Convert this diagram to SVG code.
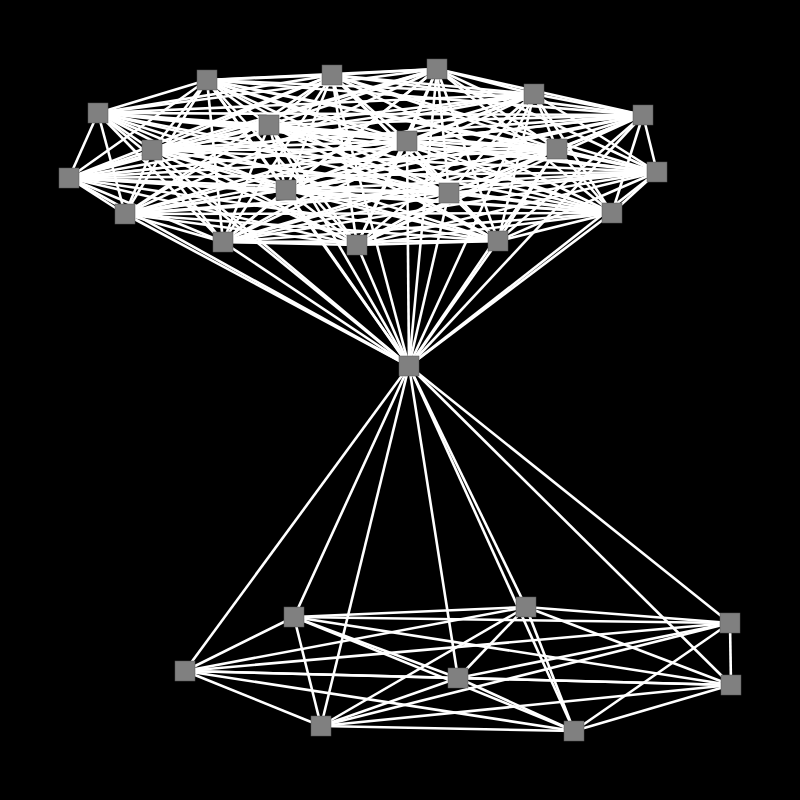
<svg xmlns="http://www.w3.org/2000/svg" width="800" height="800" viewBox="0 0 800 800">
<style>
.e path{stroke:#fff;stroke-width:2.6;fill:none}
.n rect{fill:#808080;stroke:#555;stroke-width:0.5}
</style>
<rect x="0" y="0" width="800" height="800" fill="#000"/>
<g id="connectors" class="e">
<path d="M207 80L332 75"/><path d="M207 80L437 69"/><path d="M207 80L534 94"/><path d="M207 80L643 115"/><path d="M207 80L657 172"/><path d="M207 80L612 213"/><path d="M207 80L498 241"/><path d="M207 80L357 245"/><path d="M207 80L223 242"/><path d="M207 80L125 214"/><path d="M207 80L69 178"/><path d="M207 80L98 113"/><path d="M207 80L152 150"/><path d="M207 80L269 125"/><path d="M207 80L407 141"/><path d="M207 80L557 149"/><path d="M207 80L286 190"/><path d="M207 80L449 193"/><path d="M207 80L409 366"/>
<path d="M332 75L437 69"/><path d="M332 75L534 94"/><path d="M332 75L643 115"/><path d="M332 75L657 172"/><path d="M332 75L612 213"/><path d="M332 75L498 241"/><path d="M332 75L357 245"/><path d="M332 75L223 242"/><path d="M332 75L125 214"/><path d="M332 75L69 178"/><path d="M332 75L98 113"/><path d="M332 75L152 150"/><path d="M332 75L269 125"/><path d="M332 75L407 141"/><path d="M332 75L557 149"/><path d="M332 75L286 190"/><path d="M332 75L449 193"/><path d="M332 75L409 366"/>
<path d="M437 69L534 94"/><path d="M437 69L643 115"/><path d="M437 69L657 172"/><path d="M437 69L612 213"/><path d="M437 69L498 241"/><path d="M437 69L357 245"/><path d="M437 69L223 242"/><path d="M437 69L125 214"/><path d="M437 69L69 178"/><path d="M437 69L98 113"/><path d="M437 69L152 150"/><path d="M437 69L269 125"/><path d="M437 69L407 141"/><path d="M437 69L557 149"/><path d="M437 69L286 190"/><path d="M437 69L449 193"/><path d="M437 69L409 366"/>
<path d="M534 94L643 115"/><path d="M534 94L657 172"/><path d="M534 94L612 213"/><path d="M534 94L498 241"/><path d="M534 94L357 245"/><path d="M534 94L223 242"/><path d="M534 94L125 214"/><path d="M534 94L69 178"/><path d="M534 94L98 113"/><path d="M534 94L152 150"/><path d="M534 94L269 125"/><path d="M534 94L407 141"/><path d="M534 94L557 149"/><path d="M534 94L286 190"/><path d="M534 94L449 193"/><path d="M534 94L409 366"/>
<path d="M643 115L657 172"/><path d="M643 115L612 213"/><path d="M643 115L498 241"/><path d="M643 115L357 245"/><path d="M643 115L223 242"/><path d="M643 115L125 214"/><path d="M643 115L69 178"/><path d="M643 115L98 113"/><path d="M643 115L152 150"/><path d="M643 115L269 125"/><path d="M643 115L407 141"/><path d="M643 115L557 149"/><path d="M643 115L286 190"/><path d="M643 115L449 193"/><path d="M643 115L409 366"/>
<path d="M657 172L612 213"/><path d="M657 172L498 241"/><path d="M657 172L357 245"/><path d="M657 172L223 242"/><path d="M657 172L125 214"/><path d="M657 172L69 178"/><path d="M657 172L98 113"/><path d="M657 172L152 150"/><path d="M657 172L269 125"/><path d="M657 172L407 141"/><path d="M657 172L557 149"/><path d="M657 172L286 190"/><path d="M657 172L449 193"/><path d="M657 172L409 366"/>
<path d="M612 213L498 241"/><path d="M612 213L357 245"/><path d="M612 213L223 242"/><path d="M612 213L125 214"/><path d="M612 213L69 178"/><path d="M612 213L98 113"/><path d="M612 213L152 150"/><path d="M612 213L269 125"/><path d="M612 213L407 141"/><path d="M612 213L557 149"/><path d="M612 213L286 190"/><path d="M612 213L449 193"/><path d="M612 213L409 366"/>
<path d="M498 241L357 245"/><path d="M498 241L223 242"/><path d="M498 241L125 214"/><path d="M498 241L69 178"/><path d="M498 241L98 113"/><path d="M498 241L152 150"/><path d="M498 241L269 125"/><path d="M498 241L407 141"/><path d="M498 241L557 149"/><path d="M498 241L286 190"/><path d="M498 241L449 193"/><path d="M498 241L409 366"/>
<path d="M357 245L223 242"/><path d="M357 245L125 214"/><path d="M357 245L69 178"/><path d="M357 245L98 113"/><path d="M357 245L152 150"/><path d="M357 245L269 125"/><path d="M357 245L407 141"/><path d="M357 245L557 149"/><path d="M357 245L286 190"/><path d="M357 245L449 193"/><path d="M357 245L409 366"/>
<path d="M223 242L125 214"/><path d="M223 242L69 178"/><path d="M223 242L98 113"/><path d="M223 242L152 150"/><path d="M223 242L269 125"/><path d="M223 242L407 141"/><path d="M223 242L557 149"/><path d="M223 242L286 190"/><path d="M223 242L449 193"/><path d="M223 242L409 366"/>
<path d="M125 214L69 178"/><path d="M125 214L98 113"/><path d="M125 214L152 150"/><path d="M125 214L269 125"/><path d="M125 214L407 141"/><path d="M125 214L557 149"/><path d="M125 214L286 190"/><path d="M125 214L449 193"/><path d="M125 214L409 366"/>
<path d="M69 178L98 113"/><path d="M69 178L152 150"/><path d="M69 178L269 125"/><path d="M69 178L407 141"/><path d="M69 178L557 149"/><path d="M69 178L286 190"/><path d="M69 178L449 193"/><path d="M69 178L409 366"/>
<path d="M98 113L152 150"/><path d="M98 113L269 125"/><path d="M98 113L407 141"/><path d="M98 113L557 149"/><path d="M98 113L286 190"/><path d="M98 113L449 193"/><path d="M98 113L409 366"/>
<path d="M152 150L269 125"/><path d="M152 150L407 141"/><path d="M152 150L557 149"/><path d="M152 150L286 190"/><path d="M152 150L449 193"/><path d="M152 150L409 366"/>
<path d="M269 125L407 141"/><path d="M269 125L557 149"/><path d="M269 125L286 190"/><path d="M269 125L449 193"/><path d="M269 125L409 366"/>
<path d="M407 141L557 149"/><path d="M407 141L286 190"/><path d="M407 141L449 193"/><path d="M407 141L409 366"/>
<path d="M557 149L286 190"/><path d="M557 149L449 193"/><path d="M557 149L409 366"/>
<path d="M286 190L449 193"/><path d="M286 190L409 366"/>
<path d="M449 193L409 366"/>
<path d="M409 366L294 617"/><path d="M409 366L526 607"/><path d="M409 366L730 623"/><path d="M409 366L731 685"/><path d="M409 366L574 731"/><path d="M409 366L321 726"/><path d="M409 366L185 671"/><path d="M409 366L458 678"/>
<path d="M294 617L526 607"/><path d="M294 617L730 623"/><path d="M294 617L731 685"/><path d="M294 617L574 731"/><path d="M294 617L321 726"/><path d="M294 617L185 671"/><path d="M294 617L458 678"/>
<path d="M526 607L730 623"/><path d="M526 607L731 685"/><path d="M526 607L574 731"/><path d="M526 607L321 726"/><path d="M526 607L185 671"/><path d="M526 607L458 678"/>
<path d="M730 623L731 685"/><path d="M730 623L574 731"/><path d="M730 623L321 726"/><path d="M730 623L185 671"/><path d="M730 623L458 678"/>
<path d="M731 685L574 731"/><path d="M731 685L321 726"/><path d="M731 685L185 671"/><path d="M731 685L458 678"/>
<path d="M574 731L321 726"/><path d="M574 731L185 671"/><path d="M574 731L458 678"/>
<path d="M321 726L185 671"/><path d="M321 726L458 678"/>
<path d="M185 671L458 678"/>
</g>
<g class="n">
<g id="t0"><rect x="197" y="70" width="20" height="20"/></g>
<g id="t1"><rect x="322" y="65" width="20" height="20"/></g>
<g id="t2"><rect x="427" y="59" width="20" height="20"/></g>
<g id="t3"><rect x="524" y="84" width="20" height="20"/></g>
<g id="t4"><rect x="633" y="105" width="20" height="20"/></g>
<g id="t5"><rect x="647" y="162" width="20" height="20"/></g>
<g id="t6"><rect x="602" y="203" width="20" height="20"/></g>
<g id="t7"><rect x="488" y="231" width="20" height="20"/></g>
<g id="t8"><rect x="347" y="235" width="20" height="20"/></g>
<g id="t9"><rect x="213" y="232" width="20" height="20"/></g>
<g id="t10"><rect x="115" y="204" width="20" height="20"/></g>
<g id="t11"><rect x="59" y="168" width="20" height="20"/></g>
<g id="t12"><rect x="88" y="103" width="20" height="20"/></g>
<g id="t13"><rect x="142" y="140" width="20" height="20"/></g>
<g id="t14"><rect x="259" y="115" width="20" height="20"/></g>
<g id="t15"><rect x="397" y="131" width="20" height="20"/></g>
<g id="t16"><rect x="547" y="139" width="20" height="20"/></g>
<g id="t17"><rect x="276" y="180" width="20" height="20"/></g>
<g id="t18"><rect x="439" y="183" width="20" height="20"/></g>
<g id="hub"><rect x="399" y="356" width="20" height="20"/></g>
<g id="b0"><rect x="284" y="607" width="20" height="20"/></g>
<g id="b1"><rect x="516" y="597" width="20" height="20"/></g>
<g id="b2"><rect x="720" y="613" width="20" height="20"/></g>
<g id="b3"><rect x="721" y="675" width="20" height="20"/></g>
<g id="b4"><rect x="564" y="721" width="20" height="20"/></g>
<g id="b5"><rect x="311" y="716" width="20" height="20"/></g>
<g id="b6"><rect x="175" y="661" width="20" height="20"/></g>
<g id="b7"><rect x="448" y="668" width="20" height="20"/></g>
</g>
</svg>
